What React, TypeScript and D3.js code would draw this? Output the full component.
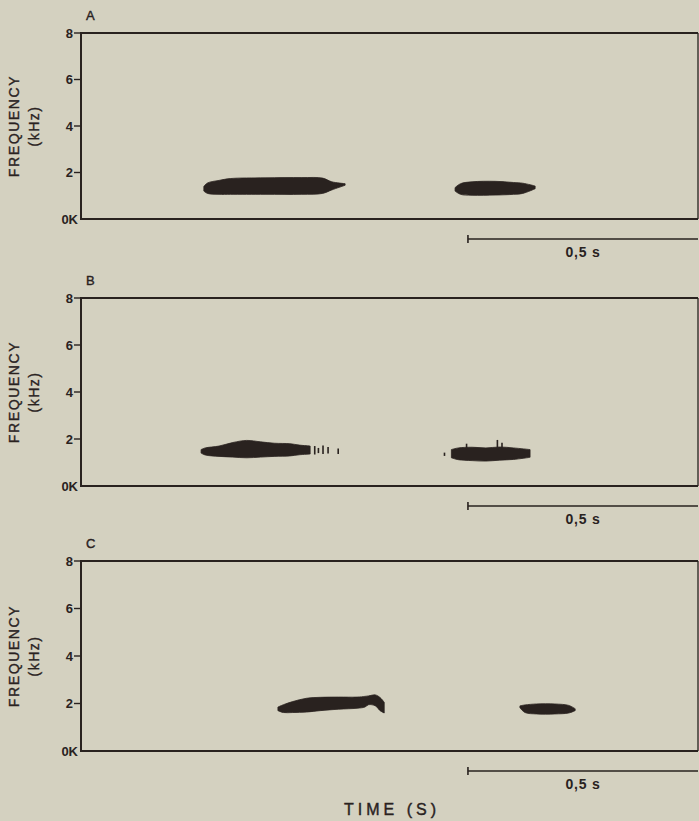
import React from 'react';
import * as d3 from 'd3';

// frequency ticks (kHz) and their printed labels
const freqTicks = [0, 2, 4, 6, 8];
const freqLabels = ['0K', '2', '4', '6', '8'];
const panelNames = ['A', 'B', 'C'];

// time window shown in every panel (s) and the 0.5 s scale bar
const timeMax = 1.341;
const barStart = 0.841;
const barLength = 0.5;
const barLabel = '0,5 s';

// syllable outlines: time (s), upper / lower edge (kHz)
const a1Time = [0.267, 0.275, 0.3, 0.325, 0.4, 0.48, 0.525, 0.545, 0.574];
const a1High = [1.4, 1.55, 1.66, 1.74, 1.77, 1.78, 1.76, 1.6, 1.52];
const a1Low = [1.2, 1.1, 1.06, 1.06, 1.06, 1.06, 1.1, 1.25, 1.45];

const a2Time = [0.813, 0.825, 0.85, 0.9, 0.94, 0.96, 0.987];
const a2High = [1.35, 1.52, 1.6, 1.62, 1.57, 1.54, 1.42];
const a2Low = [1.2, 1.06, 1.02, 1.03, 1.06, 1.1, 1.3];

const b1Time = [0.261, 0.27, 0.3, 0.33, 0.36, 0.39, 0.42, 0.454, 0.475, 0.498];
const b1High = [1.55, 1.62, 1.7, 1.85, 1.94, 1.88, 1.82, 1.8, 1.74, 1.7];
const b1Low = [1.4, 1.32, 1.26, 1.23, 1.2, 1.23, 1.26, 1.28, 1.33, 1.36];

const b2Time = [0.805, 0.82, 0.85, 0.88, 0.91, 0.94, 0.976];
const b2High = [1.55, 1.62, 1.65, 1.62, 1.66, 1.62, 1.55];
const b2Low = [1.2, 1.12, 1.08, 1.06, 1.1, 1.13, 1.22];

const c1Time = [0.428, 0.44, 0.46, 0.49, 0.52, 0.56, 0.6, 0.617, 0.625, 0.64, 0.65, 0.659];
const c1High = [1.85, 1.95, 2.08, 2.22, 2.26, 2.27, 2.27, 2.3, 2.32, 2.36, 2.25, 2.05];
const c1Low = [1.7, 1.62, 1.62, 1.64, 1.7, 1.76, 1.8, 1.85, 1.95, 1.9, 1.7, 1.6];

const c2Time = [0.954, 0.965, 0.99, 1.03, 1.06, 1.074];
const c2High = [1.9, 1.94, 1.98, 1.98, 1.92, 1.78];
const c2Low = [1.82, 1.62, 1.56, 1.56, 1.6, 1.7];

// loose vertical fragments (time, low, high) trailing the B syllables
const bBitTime = [0.508, 0.516, 0.526, 0.537, 0.559, 0.79, 0.838, 0.905, 0.915];
const bBitLow = [1.34, 1.4, 1.36, 1.38, 1.36, 1.28, 1.55, 1.55, 1.55];
const bBitHigh = [1.7, 1.62, 1.72, 1.66, 1.6, 1.42, 1.8, 1.96, 1.84];

const syllables = [
  [[a1Time, a1High, a1Low], [a2Time, a2High, a2Low]],
  [[b1Time, b1High, b1Low], [b2Time, b2High, b2Low]],
  [[c1Time, c1High, c1Low], [c2Time, c2High, c2Low]],
];
const fragments = [[], bBitTime.map((t, i) => [t, bBitLow[i], bBitHigh[i]]), []];

const W = 699;
const H = 821;
const left = 81;
const right = 698;
const frames = [
  { top: 33, bottom: 219 },
  { top: 298, bottom: 486 },
  { top: 561, bottom: 751 },
];
const paper = '#d4d1c0';
const ink = '#29221f';
const font = 'Arial, "Liberation Sans", sans-serif';

function Panel({ idx }) {
  const { top, bottom } = frames[idx];
  const x = d3.scaleLinear().domain([0, timeMax]).range([left, right]);
  const y = d3.scaleLinear().domain([0, 8]).range([bottom, top]);
  const area = d3.area()
    .x(d => x(d[0]))
    .y0(d => y(d[2]))
    .y1(d => y(d[1]))
    .curve(d3.curveCatmullRom);
  const mid = (top + bottom) / 2;
  const barY = bottom + 20;

  return (
    <g>
      <text x={86} y={top - 13} fontSize={13} fill={ink} fontFamily={font}
        stroke={ink} strokeWidth={0.4}>{panelNames[idx]}</text>
      {/* frame */}
      <line x1={left} x2={right} y1={top} y2={top} stroke={ink} strokeWidth={2} />
      <line x1={left} x2={right} y1={bottom} y2={bottom} stroke={ink} strokeWidth={2} />
      <line x1={left} x2={left} y1={top - 1} y2={bottom + 1} stroke={ink} strokeWidth={2} />
      <line x1={right} x2={right} y1={top} y2={bottom} stroke={ink} strokeWidth={1.3} />
      {freqTicks.map((f, i) => (
        <g key={f}>
          {f > 0 && <line x1={left - 7} x2={left} y1={y(f)} y2={y(f)} stroke={ink} strokeWidth={1.4} />}
          <text x={f > 0 ? left - 8 : left - 3} y={y(f)} dy="0.36em" textAnchor="end"
            fontSize={13} fontWeight="bold" fill={ink} fontFamily={font}>{freqLabels[i]}</text>
        </g>
      ))}
      <text transform={`translate(19 ${mid}) rotate(-90)`} textAnchor="middle" fontSize={14}
        letterSpacing={1.6} fill={ink} stroke={ink} strokeWidth={0.35} fontFamily={font}>FREQUENCY</text>
      <text transform={`translate(39 ${mid}) rotate(-90)`} textAnchor="middle" fontSize={14}
        letterSpacing={1.5} fill={ink} stroke={ink} strokeWidth={0.35} fontFamily={font}>(kHz)</text>
      {/* syllables */}
      {syllables[idx].map(([t, hi, lo], j) => (
        <path key={j} d={area(t.map((v, k) => [v, hi[k], lo[k]]))} fill={ink} stroke={ink} strokeWidth={0.8} />
      ))}
      {fragments[idx].map(([t, lo, hi], j) => (
        <line key={j} x1={x(t)} x2={x(t)} y1={y(lo)} y2={y(hi)} stroke={ink} strokeWidth={1.6} />
      ))}
      {/* time scale bar */}
      <line x1={x(barStart)} x2={x(barStart + barLength)} y1={barY} y2={barY} stroke={ink} strokeWidth={1.4} />
      <line x1={x(barStart)} x2={x(barStart)} y1={barY - 4} y2={barY + 4} stroke={ink} strokeWidth={1.6} />
      <text x={x(barStart + barLength / 2)} y={barY + 18} textAnchor="middle" fontSize={14}
        letterSpacing={0.8} fontWeight="bold" fill={ink} fontFamily={font}>{barLabel}</text>
    </g>
  );
}

export default function App() {
  return (
    <svg width={W} height={H} style={{ position: 'absolute', left: 0, top: 0, display: 'block' }}>
      <rect width={W} height={H} fill={paper} />
      {frames.map((_, i) => <Panel key={i} idx={i} />)}
      <text x={392} y={815} textAnchor="middle" fontSize={16} letterSpacing={4} fill={ink}
        stroke={ink} strokeWidth={0.4} fontFamily={font}>TIME (S)</text>
    </svg>
  );
}
